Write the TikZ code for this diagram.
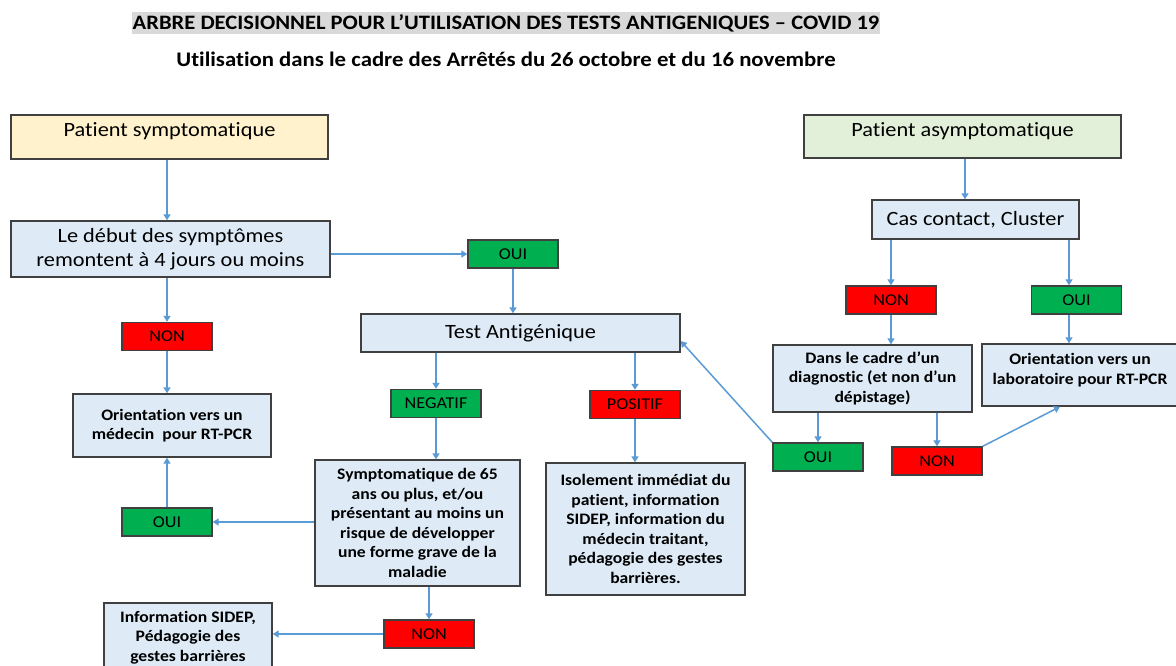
\documentclass[tikz,border=0pt]{standalone}
\usepackage{fontspec}
\setmainfont{Carlito}[FakeStretch=1.1, Ligatures=NoCommon]
\usetikzlibrary{arrows.meta,calc}
\definecolor{bordc}{HTML}{404040}
\definecolor{arrc}{HTML}{5B9BD5}
\definecolor{yel}{HTML}{FFF2CC}
\definecolor{lblue}{HTML}{DEEBF7}
\definecolor{lgreen}{HTML}{E2F0D9}
\definecolor{gr}{HTML}{00B050}
\definecolor{rd}{HTML}{FF0000}
\definecolor{tgrey}{HTML}{D9D9D9}
\tikzset{
  box/.style={draw=bordc, line width=1.4pt, inner sep=0pt},
  bigtxt/.style={font=\fontsize{20.3}{23.5}\selectfont},
  boldtxt/.style={font=\fontsize{16}{19.5}\selectfont\bfseries, align=center},
  tag/.style={box, minimum width=90pt, minimum height=28pt, font=\fontsize{16.5}{19}\selectfont},
  yes/.style={tag, fill=gr},
  no/.style={tag, fill=rd},
  arr/.style={draw=arrc, line width=1.5pt, -{Triangle[length=6pt,width=7pt]}},
}
\begin{document}
\begin{tikzpicture}[x=1pt,y=-1pt]
\clip (0,0) rectangle (1176,666);
\fill[white] (0,0) rectangle (1176,666);
% titles
\node[fill=tgrey, inner sep=0pt, minimum width=748pt, minimum height=22pt, font=\fontsize{20.5}{22}\selectfont\bfseries] (title) at (506,23) {ARBRE DECISIONNEL POUR L’UTILISATION DES TESTS ANTIGENIQUES – COVID 19};
\node[inner sep=0pt, font=\fontsize{20.7}{22}\selectfont\bfseries] (subtitle) at (506,59) {Utilisation dans le cadre des Arrêtés du 26 octobre et du 16 novembre};
% left column
\node[box, fill=yel, minimum width=317pt, minimum height=44pt, bigtxt, text height=11pt, text depth=11pt] (ps) at (169.5,137) {Patient symptomatique};
\node[box, fill=lblue, minimum width=319pt, minimum height=56pt, bigtxt, align=center] (deb) at (170.5,249) {Le début des symptômes\\remontent à 4 jours ou moins};
\node[yes] (oui1) at (513,254) {OUI};
\node[box, fill=lblue, minimum width=319pt, minimum height=38pt, bigtxt] (test) at (520.5,333) {Test Antigénique};
\node[no] (non1) at (167,336.5) {NON};
\node[box, fill=lblue, minimum width=198pt, minimum height=63pt, boldtxt] (orient) at (172,425.5) {Orientation vers un\\médecin\ \ pour RT-PCR};
\node[yes] (neg) at (436,403.5) {NEGATIF};
\node[no] (pos) at (635,404.5) {POSITIF};
\node[box, fill=lblue, minimum width=205pt, minimum height=126pt, boldtxt] (sym) at (417.5,523) {Symptomatique de 65\\ans ou plus, et/ou\\présentant au moins un\\risque de développer\\une forme grave de la\\maladie};
\node[box, fill=lblue, minimum width=199pt, minimum height=132pt, boldtxt] (iso) at (645.5,529) {Isolement immédiat du\\patient, information\\SIDEP, information du\\médecin traitant,\\pédagogie des gestes\\barrières.};
\node[yes] (oui3) at (167,522) {OUI};
\node[no] (non3) at (429,634) {NON};
\node[box, fill=lblue, minimum width=168pt, minimum height=69pt, boldtxt] (info) at (188,637.5) {Information SIDEP,\\Pédagogie des\\gestes barrières};
% right column
\node[box, fill=lgreen, minimum width=317pt, minimum height=43pt, bigtxt, text height=11pt, text depth=11pt] (pa) at (962.5,136.5) {Patient asymptomatique};
\node[box, fill=lblue, minimum width=207pt, minimum height=39pt, bigtxt] (cc) at (975.5,219.5) {Cas contact, Cluster};
\node[no] (non2) at (891,300) {NON};
\node[yes] (oui2) at (1076.5,300) {OUI};
\node[box, fill=lblue, minimum width=199pt, minimum height=67pt, boldtxt] (dans) at (872.5,378.5) {Dans le cadre d’un\\diagnostic (et non d’un\\dépistage)};
\node[box, fill=lblue, minimum width=196pt, minimum height=62pt] (labo) at (1080,375) {};
\node[boldtxt, inner sep=0pt] (labotxt) at (1080,370) {Orientation vers un\\laboratoire pour RT-PCR};
\node[yes] (oui4) at (818,457) {OUI};
\node[no] (non4) at (937,461) {NON};
% connectors
\draw[arr] (ps.south -| non1.north) -- (deb.north -| non1.north);
\draw[arr] (deb.east |- oui1.west) -- (oui1.west);
\draw[arr] (oui1.south) -- (oui1.south |- test.north);
\draw[arr] (deb.south -| non1.north) -- (non1.north);
\draw[arr] (non1.south) -- (non1.south |- orient.north);
\draw[arr] (oui3.north) -- (oui3.north |- orient.south);
\draw[arr] (sym.west |- oui3.east) -- (oui3.east);
\draw[arr] (test.south -| neg.north) -- (neg.north);
\draw[arr] (test.south -| pos.north) -- (pos.north);
\draw[arr] (neg.south) -- (neg.south |- sym.north);
\draw[arr] (pos.south) -- (pos.south |- iso.north);
\draw[arr] (sym.south -| non3.north) -- (non3.north);
\draw[arr] (non3.west) -- (non3.west -| info.east);
\draw[arr] ($(pa.south)+(2.5,0)$) -- ($(pa.south |- cc.north)+(2.5,0)$);
\draw[arr] (cc.south -| non2.north) -- (non2.north);
\draw[arr] ($(cc.south -| oui2.north)+(-7.5,0)$) -- ($(oui2.north)+(-7.5,0)$);
\draw[arr] (non2.south) -- (non2.south |- dans.north);
\draw[arr] ($(oui2.south)+(-7.5,0)$) -- ($(oui2.south |- labo.north)+(-7.5,0)$);
\draw[arr] (dans.south -| oui4.north) -- (oui4.north);
\draw[arr] (dans.south -| non4.north) -- (non4.north);
\draw[arr] (non4.north east) -- ($(labo.south)+(-20,0)$);
\draw[arr] (oui4.north west) -- ($(test.east)+(0,8)$);
\end{tikzpicture}
\end{document}
